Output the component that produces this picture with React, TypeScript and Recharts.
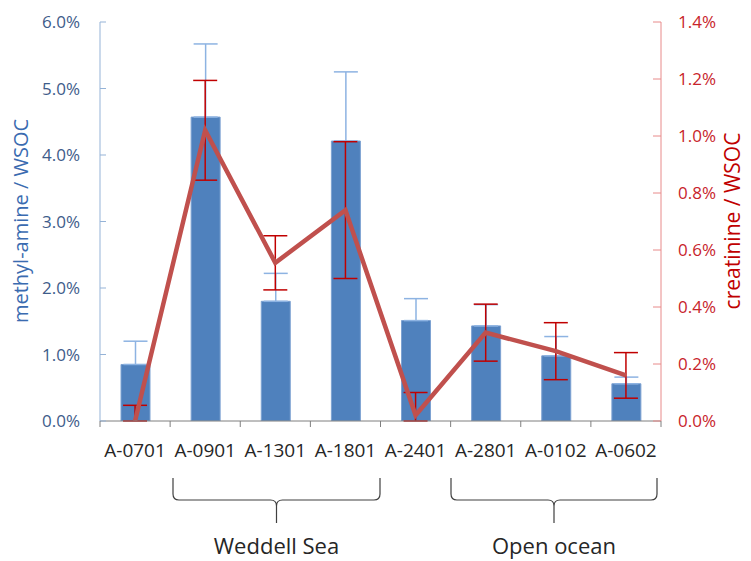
import React from 'react';
import { ComposedChart, Bar, Line, XAxis, YAxis, ErrorBar } from 'recharts';

// sample ids along the cruise track
const SAMPLES = ['A-0701', 'A-0901', 'A-1301', 'A-1801', 'A-2401', 'A-2801', 'A-0102', 'A-0602'];
// methyl-amine / WSOC (%), bars, left axis
const METHYL = [0.85, 4.57, 1.8, 4.21, 1.51, 1.43, 0.98, 0.56];
const METHYL_ERR = [0.35, 1.1, 0.42, 1.04, 0.33, 0.32, 0.29, 0.1];
// creatinine / WSOC (%), line, right axis
const CREAT = [0.0, 1.02, 0.555, 0.74, 0.02, 0.31, 0.245, 0.16];
const CREAT_ERR_LOW = [0.0, 0.175, 0.095, 0.24, 0.02, 0.1, 0.1, 0.08];
const CREAT_ERR_HIGH = [0.055, 0.175, 0.095, 0.24, 0.08, 0.1, 0.1, 0.08];

const LEFT_TICKS = [0, 1, 2, 3, 4, 5, 6];
const RIGHT_TICKS = [0, 0.2, 0.4, 0.6, 0.8, 1.0, 1.2, 1.4];

const data = SAMPLES.map((name, i) => ({
  name,
  methyl: METHYL[i],
  methylErr: [0, METHYL_ERR[i]],
  creat: CREAT[i],
  creatErr: [CREAT_ERR_LOW[i], CREAT_ERR_HIGH[i]],
}));

const W = 751;
const H = 561;
const PLOT_LEFT = 100;
const PLOT_RIGHT = 661;
const PLOT_TOP = 22;
const PLOT_BOTTOM = 421;
const BAND = (PLOT_RIGHT - PLOT_LEFT) / SAMPLES.length;
const FONT = '"Open Sans", sans-serif';

const XTick = ({ x, y, payload, index }: any) => (
  <g>
    <line x1={x - BAND / 2} x2={x - BAND / 2} y1={y} y2={y + 6} stroke="#7f7f7f" />
    {index === SAMPLES.length - 1 && (
      <line x1={x + BAND / 2} x2={x + BAND / 2} y1={y} y2={y + 6} stroke="#7f7f7f" />
    )}
    <text x={x} y={y + 36} textAnchor="middle" fontSize={19} fill="#262626" fontFamily={FONT}>
      {payload.value}
    </text>
  </g>
);

// curly brace under a group of samples
const Brace = ({ x1, x2, label }: { x1: number; x2: number; label: string }) => {
  const top = 478;
  const mid = 500;
  const tip = 523;
  const c = (x1 + x2) / 2;
  const r = 6;
  const d = `M${x1},${top} L${x1},${mid - r} Q${x1},${mid} ${x1 + r},${mid} L${c - r},${mid} Q${c},${mid} ${c},${mid + r} L${c},${tip}
    M${c},${mid + r} Q${c},${mid} ${c + r},${mid} L${x2 - r},${mid} Q${x2},${mid} ${x2},${mid - r} L${x2},${top}`;
  return (
    <g>
      <path d={d} fill="none" stroke="#404040" strokeWidth={1.2} />
      <text x={c} y={554} textAnchor="middle" fontSize={22} fill="#262626" fontFamily={FONT}>
        {label}
      </text>
    </g>
  );
};

export default function App() {
  return (
    <div style={{ position: 'absolute', left: 0, top: 0, width: W, height: H, background: '#fff' }}>
      <ComposedChart
        width={W}
        height={H}
        data={data}
        margin={{ top: PLOT_TOP, right: 0, bottom: 0, left: 0 }}
        barCategoryGap={0}
      >
        <XAxis
          dataKey="name"
          xAxisId={0}
          height={H - PLOT_BOTTOM}
          tickLine={false}
          tickSize={0}
          tickMargin={0}
          axisLine={{ stroke: '#7f7f7f' }}
          tick={<XTick />}
          interval={0}
        />
        <YAxis
          yAxisId="left"
          orientation="left"
          width={PLOT_LEFT}
          domain={[0, 6]}
          ticks={LEFT_TICKS}
          tickFormatter={(v: number) => `${v.toFixed(1)}%`}
          axisLine={{ stroke: '#95B3D7' }}
          tickLine={{ stroke: '#95B3D7' }}
          tickSize={-6}
          tickMargin={26}
          tick={{ fontSize: 17, fill: '#3E5C8A', fontFamily: FONT }}
          allowDataOverflow
        />
        <YAxis
          yAxisId="right"
          orientation="right"
          width={W - PLOT_RIGHT}
          domain={[0, 1.4]}
          ticks={RIGHT_TICKS}
          tickFormatter={(v: number) => `${v.toFixed(1)}%`}
          axisLine={{ stroke: '#E88A8A' }}
          tickLine={{ stroke: '#E88A8A' }}
          tickSize={-8}
          tickMargin={25}
          tick={{ fontSize: 17, fill: '#C8242B', fontFamily: FONT, textAnchor: 'start' }}
          allowDataOverflow
        />
        <Bar
          yAxisId="left"
          dataKey="methyl"
          fill="#4F81BD"
          stroke="#7DA2D2"
          strokeWidth={1}
          barSize={29}
          isAnimationActive={false}
        >
          <ErrorBar dataKey="methylErr" width={12} stroke="#8DB3E2" strokeWidth={1.5} />
        </Bar>
        <Line
          yAxisId="right"
          dataKey="creat"
          stroke="#C0504D"
          strokeWidth={4.5}
          dot={false}
          isAnimationActive={false}
        >
          <ErrorBar dataKey="creatErr" width={12} stroke="#C00000" strokeWidth={1.5} />
        </Line>
      </ComposedChart>
      <svg width={W} height={H} style={{ position: 'absolute', left: 0, top: 0, pointerEvents: 'none' }}>
        <text
          transform="translate(28,221) rotate(-90)"
          textAnchor="middle"
          fontSize={20}
          fill="#3A6BB0"
          fontFamily={FONT}
        >
          methyl-amine / WSOC
        </text>
        <text
          transform="translate(740,221) rotate(-90)"
          textAnchor="middle"
          fontSize={21}
          fill="#C00000"
          fontFamily={FONT}
        >
          creatinine / WSOC
        </text>
        <Brace x1={173} x2={380} label="Weddell Sea" />
        <Brace x1={451} x2={657} label="Open ocean" />
      </svg>
    </div>
  );
}
